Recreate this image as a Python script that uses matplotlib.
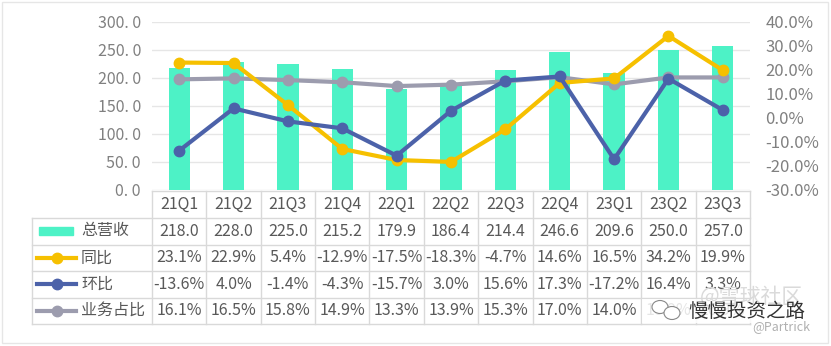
import matplotlib
matplotlib.use("Agg")
import matplotlib.pyplot as plt
from matplotlib.patches import Rectangle, Ellipse
from matplotlib.lines import Line2D

plt.rcParams['font.family'] = ['Noto Sans CJK SC', 'DejaVu Sans']

quarters = ["21Q1", "21Q2", "21Q3", "21Q4", "22Q1", "22Q2", "22Q3", "22Q4", "23Q1", "23Q2", "23Q3"]
revenue = [218.0, 228.0, 225.0, 215.2, 179.9, 186.4, 214.4, 246.6, 209.6, 250.0, 257.0]
yoy = [23.1, 22.9, 5.4, -12.9, -17.5, -18.3, -4.7, 14.6, 16.5, 34.2, 19.9]
qoq = [-13.6, 4.0, -1.4, -4.3, -15.7, 3.0, 15.6, 17.3, -17.2, 16.4, 3.3]
share = [16.1, 16.5, 15.8, 14.9, 13.3, 13.9, 15.3, 17.0, 14.0, 16.9, 16.9]
series_names = ["总营收", "同比", "环比", "业务占比"]

C_BAR = "#4DF2C6"
C_YOY = "#F6C000"
C_QOQ = "#4C62A9"
C_SHARE = "#9C9CAE"
C_TXT = "#595959"
C_AX = "#808080"
C_GRID = "#E6E6E6"
C_BORDER = "#D9D9D9"

W, H = 831, 346
fig = plt.figure(figsize=(W / 100, H / 100), dpi=100)

# plot region in pixels
x0, x1 = 152, 750
ytop, ybot = 22, 190
n = len(quarters)
ax = fig.add_axes([x0 / W, 1 - ybot / H, (x1 - x0) / W, (ybot - ytop) / H])
xs = list(range(n))
ax.bar(xs, revenue, width=0.39, color=C_BAR, zorder=2)
ax.set_xlim(-0.5, n - 0.5)
ax.set_ylim(0, 300)
ax.set_yticks(range(0, 301, 50))
ax.set_yticklabels([f"{v:.0f}. 0" for v in range(0, 301, 50)], color=C_AX, fontsize=11.5)
ax.tick_params(axis='y', length=0, pad=8)
ax.set_xticks([])
ax.grid(axis='y', color=C_GRID, linewidth=1, zorder=0)
for s in ax.spines.values():
    s.set_visible(False)

ax2 = ax.twinx()
ax2.set_ylim(-30, 40)
ax2.plot(xs, share, color=C_SHARE, lw=3, marker='o', ms=7.5, zorder=3)
ax2.plot(xs, yoy, color=C_YOY, lw=3, marker='o', ms=7.5, zorder=4)
ax2.plot(xs, qoq, color=C_QOQ, lw=3, marker='o', ms=7.5, zorder=5)
ax2.set_yticks(range(-30, 41, 10))
ax2.set_yticklabels([f"{v:.1f}%" for v in range(-30, 41, 10)], color=C_AX, fontsize=12)
for lab in ax2.get_yticklabels():
    lab.set_horizontalalignment('left')
ax2.tick_params(axis='y', length=0, pad=11)
for s in ax2.spines.values():
    s.set_visible(False)

# data table beneath the chart, laid out in pixel coordinates
tab = fig.add_axes([0, 0, 1, 1], facecolor='none')
tab.set_xlim(0, W)
tab.set_ylim(H, 0)
tab.axis('off')

cw = (x1 - x0) / n
row_edges = [191, 217.5, 244.5, 271, 297.5, 323.5]
lx0 = 32
lk = dict(color=C_BORDER, lw=1)

# horizontal borders
tab.plot([x0, x1], [row_edges[0]] * 2, **lk)
for y in row_edges[1:]:
    tab.plot([lx0, x1], [y, y], **lk)
# vertical borders
tab.plot([lx0, lx0], [row_edges[1], row_edges[-1]], **lk)
for i in range(n + 1):
    tab.plot([x0 + i * cw] * 2, [row_edges[0], row_edges[-1]], **lk)

def rc(r):
    return (row_edges[r] + row_edges[r + 1]) / 2

fs = 11.5
for i, q in enumerate(quarters):
    cx = x0 + (i + 0.5) * cw
    tab.text(cx, rc(0), q, ha='center', va='center', fontsize=fs, color=C_TXT)
    tab.text(cx, rc(1), f"{revenue[i]:.1f}", ha='center', va='center', fontsize=fs, color=C_TXT)
    tab.text(cx, rc(2), f"{yoy[i]:.1f}%", ha='center', va='center', fontsize=fs, color=C_TXT)
    tab.text(cx, rc(3), f"{qoq[i]:.1f}%", ha='center', va='center', fontsize=fs, color=C_TXT)
    tab.text(cx, rc(4), f"{share[i]:.1f}%", ha='center', va='center', fontsize=fs, color=C_TXT)

# legend keys
tab.add_patch(Rectangle((39, rc(1) - 4), 34, 8, color=C_BAR))
for r, c in zip([2, 3, 4], [C_YOY, C_QOQ, C_SHARE]):
    tab.add_line(Line2D([37, 76], [rc(r), rc(r)], color=c, lw=3))
    tab.add_line(Line2D([56.5], [rc(r)], color=c, marker='o', ms=7.5))
for r, name in zip([1, 2, 3, 4], series_names):
    tab.text(81, rc(r), name, ha='left', va='center', fontsize=fs, color=C_TXT)

# watermark
tab.add_patch(Rectangle((642, 299), 176, 24, facecolor='white', edgecolor='none', alpha=0.85, zorder=9))
tab.text(700, 297, "@雪球社区", ha='left', va='center', fontsize=15, color="#DADADA", zorder=10)
tab.add_patch(Ellipse((660, 307), 16, 13, facecolor='white', edgecolor='#888888', lw=0.8, zorder=10))
tab.add_patch(Ellipse((672, 313), 16, 13, facecolor='white', edgecolor='#888888', lw=0.8, zorder=10))
tab.text(688, 311, "慢慢投资之路", ha='left', va='center', fontsize=14, color="#333333", zorder=11)
tab.text(752, 327, "@Partrick", ha='left', va='center', fontsize=9, color="#B0B0B0", zorder=11)

# outer frame
tab.add_patch(Rectangle((2, 2), W - 5, H - 5, facecolor='none', edgecolor="#E6E6E6", lw=1))

fig.savefig("out.png", dpi=100)
